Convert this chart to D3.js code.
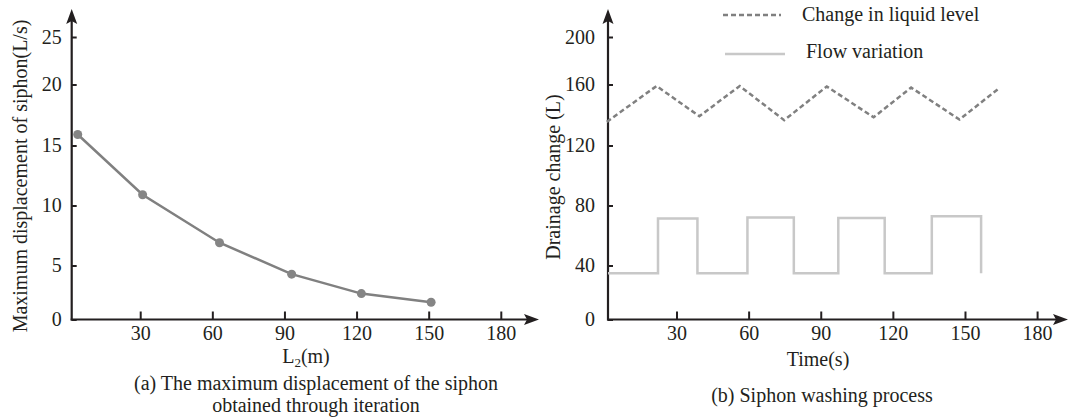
<!DOCTYPE html>
<html><head><meta charset="utf-8">
<script src="https://cdn.jsdelivr.net/npm/d3@7"></script>
<style>
body{margin:0;background:#fff;}
svg text{font-family:"Liberation Serif","Times New Roman",serif;fill:#231f20;}
</style></head>
<body>
<svg id="chart" width="1069" height="418"></svg>
<script>
// ---- Data (a) ----
const lengthL2 = [4, 31, 63, 93, 122, 151];
const maxDisplacement = [15.9, 10.9, 6.9, 4.2, 2.4, 1.6];
const xTicksA = [30, 60, 90, 120, 150, 180];
const yTicksA = [0, 5, 10, 15, 20, 25];

// ---- Data (b) ----
const levelTime = [1, 21.7, 39.5, 56.3, 74.8, 92.5, 112, 127.6, 147.7, 163.9];
const levelValue = [135.5, 159, 139.2, 159, 136.6, 158.7, 138.5, 158, 137, 157.2];
const flowTime =  [1.5, 22.3, 22.3, 38.7, 38.7, 59.5, 59.5, 78.8, 78.8, 97.3, 97.3, 116.6, 116.6, 136.2, 136.2, 156.7, 156.7];
const flowValue = [34.2, 34.2, 71.4, 71.4, 34.2, 34.2, 72, 72, 34.2, 34.2, 71.7, 71.7, 34.2, 34.2, 72.8, 72.8, 34.2];
const xTicksB = [30, 60, 90, 120, 150, 180];
const yTicksB = [0, 40, 80, 120, 160, 200];

const svg = d3.select("#chart");
const AX = "#231f20";
const yRange = [319.5, 265.5, 205.5, 145.5, 84.5, 37];

function panel(x0, xTicks, yTicks, arrowX, pad) {
  const g = svg.append("g");
  const x = d3.scaleLinear().domain([1.5, 180]).range([x0, x0 + 429.1]);
  const y = d3.scaleLinear().domain(yTicks).range(yRange);
  const ax = x(1.5), ay = y(0);
  g.append("line").attr("x1", ax).attr("x2", ax).attr("y1", ay + 1).attr("y2", 20)
    .attr("stroke", AX).attr("stroke-width", 2.2);
  g.append("line").attr("x1", ax - 1).attr("x2", arrowX - 10).attr("y1", ay).attr("y2", ay)
    .attr("stroke", AX).attr("stroke-width", 2.2);
  g.append("path").attr("d", `M${ax},9 L${ax-5.5},24 L${ax},21 L${ax+5.5},24 Z`).attr("fill", AX);
  g.append("path").attr("d", `M${arrowX},${ay} L${arrowX-15},${ay-5.5} L${arrowX-12},${ay} L${arrowX-15},${ay+5.5} Z`).attr("fill", AX);
  const ya = g.append("g").attr("transform", `translate(${ax},0)`)
    .call(d3.axisLeft(y).tickValues(yTicks).tickSize(-5).tickPadding(pad).tickFormat(d3.format("d")));
  ya.select(".domain").remove();
  ya.selectAll("line").attr("stroke", AX).attr("stroke-width", 2);
  ya.selectAll("text").attr("font-size", 20).attr("font-family", "Liberation Serif").attr("fill", AX);
  const xa = g.append("g").attr("transform", `translate(0,${ay})`)
    .call(d3.axisBottom(x).tickValues(xTicks).tickSize(-8).tickPadding(6).tickFormat(d3.format("d")));
  xa.select(".domain").remove();
  xa.selectAll("line").attr("stroke", AX).attr("stroke-width", 2);
  xa.selectAll("text").attr("font-size", 20).attr("font-family", "Liberation Serif").attr("fill", AX);
  return {g, x, y};
}

// ---- Panel (a) ----
const A = panel(71.7, xTicksA, yTicksA, 539, 10);
const dataA = lengthL2.map((d, i) => [d, maxDisplacement[i]]);
A.g.append("path").datum(dataA)
  .attr("d", d3.line().x(d => A.x(d[0])).y(d => A.y(d[1])))
  .attr("fill", "none").attr("stroke", "#808080").attr("stroke-width", 2.5);
A.g.selectAll("circle").data(dataA).enter().append("circle")
  .attr("cx", d => A.x(d[0])).attr("cy", d => A.y(d[1])).attr("r", 4.5).attr("fill", "#858585");

svg.append("text").attr("transform", "translate(27,176) rotate(-90)")
  .attr("text-anchor", "middle").attr("font-size", 20).text("Maximum displacement of siphon(L/s)");
const l2 = svg.append("text").attr("x", 306).attr("y", 363).attr("text-anchor", "middle").attr("font-size", 20);
l2.append("tspan").text("L");
l2.append("tspan").attr("font-size", 13).attr("dy", 4).text("2");
l2.append("tspan").attr("dy", -4).text("(m)");
svg.append("text").attr("x", 316).attr("y", 390).attr("text-anchor", "middle").attr("font-size", 20)
  .text("(a) The maximum displacement of the siphon");
svg.append("text").attr("x", 316).attr("y", 412).attr("text-anchor", "middle").attr("font-size", 20)
  .text("obtained through iteration");

// ---- Panel (b) ----
const B = panel(608, xTicksB, yTicksB, 1068, 13);
const levelData = levelTime.map((d, i) => [d, levelValue[i]]);
const flowData = flowTime.map((d, i) => [d, flowValue[i]]);
B.g.append("path").datum(flowData)
  .attr("d", d3.line().x(d => B.x(d[0])).y(d => B.y(d[1])))
  .attr("fill", "none").attr("stroke", "#c8c8c8").attr("stroke-width", 2.5);
B.g.append("path").datum(levelData)
  .attr("d", d3.line().x(d => B.x(d[0])).y(d => B.y(d[1])))
  .attr("fill", "none").attr("stroke", "#808080").attr("stroke-width", 2.5).attr("stroke-dasharray", "5,3");

svg.append("text").attr("transform", "translate(560,177) rotate(-90)")
  .attr("text-anchor", "middle").attr("font-size", 20).text("Drainage change (L)");
svg.append("text").attr("x", 818).attr("y", 366).attr("text-anchor", "middle").attr("font-size", 20).text("Time(s)");
svg.append("text").attr("x", 822).attr("y", 402).attr("text-anchor", "middle").attr("font-size", 20).text("(b) Siphon washing process");

// legend
svg.append("line").attr("x1", 723).attr("x2", 781).attr("y1", 15).attr("y2", 15)
  .attr("stroke", "#808080").attr("stroke-width", 2.5).attr("stroke-dasharray", "5,3");
svg.append("text").attr("x", 802).attr("y", 21).attr("font-size", 20).text("Change in liquid level");
svg.append("line").attr("x1", 725).attr("x2", 785).attr("y1", 54).attr("y2", 54)
  .attr("stroke", "#c8c8c8").attr("stroke-width", 2.5);
svg.append("text").attr("x", 806).attr("y", 58).attr("font-size", 20).text("Flow variation");
</script>
</body></html>
